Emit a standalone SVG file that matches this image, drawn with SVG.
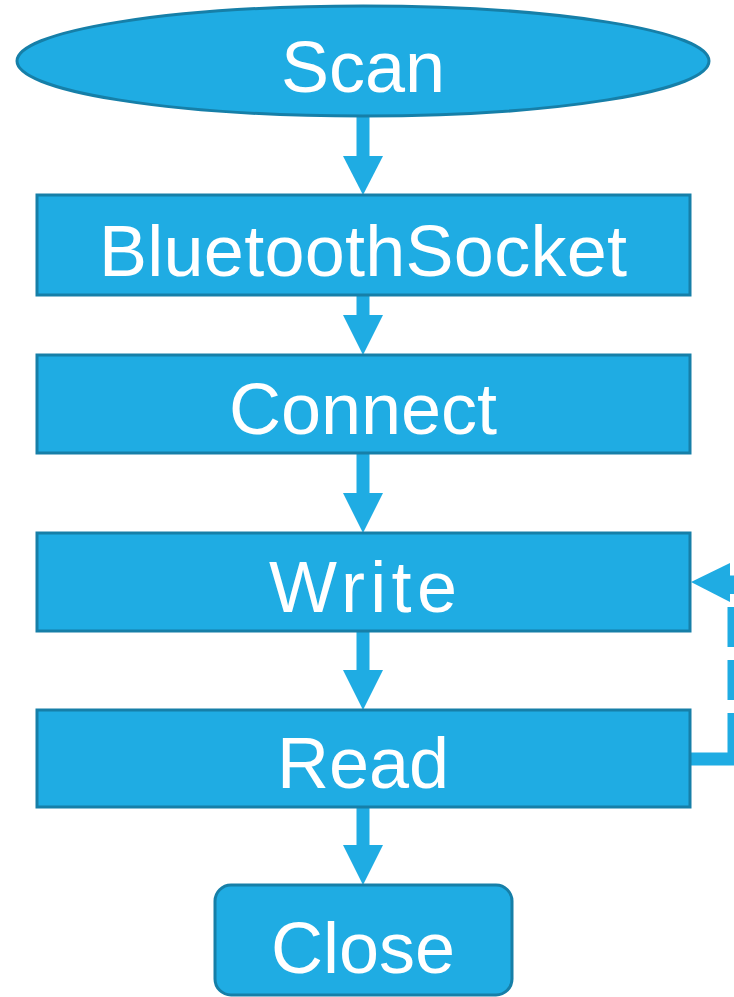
<svg xmlns="http://www.w3.org/2000/svg" width="734" height="997" viewBox="0 0 734 997">
<style>
.n{fill:#1FACE3;stroke:#167FA8;stroke-width:3}
.t{fill:#fff;font-family:"Liberation Sans",Arial,sans-serif;font-size:72px;text-anchor:middle}
.sh{fill:none;stroke:#1FACE3;stroke-width:13}
.hd{fill:#1FACE3}
</style>
<rect width="734" height="997" fill="#fff"/>
<g id="connectors">
<line class="sh" x1="363" y1="117" x2="363" y2="157"/><polygon class="hd" points="343,156 383,156 363,195"/>
<line class="sh" x1="363" y1="295" x2="363" y2="316"/><polygon class="hd" points="343,315 383,315 363,355"/>
<line class="sh" x1="363" y1="453" x2="363" y2="494"/><polygon class="hd" points="343,493 383,493 363,533"/>
<line class="sh" x1="363" y1="631" x2="363" y2="671"/><polygon class="hd" points="343,670 383,670 363,710"/>
<line class="sh" x1="363" y1="807" x2="363" y2="846"/><polygon class="hd" points="343,845 383,845 363,885"/>
<line class="sh" x1="690" y1="759" x2="734" y2="759"/>
<line class="sh" x1="734" y1="753" x2="734" y2="582" stroke-dasharray="40,13"/>
<line class="sh" x1="726" y1="582" x2="734" y2="582"/>
<polygon class="hd" points="691,582 730,563 730,602"/>
</g>
<g id="scan"><ellipse class="n" cx="363" cy="61" rx="346" ry="55"/><text class="t" x="363" y="92">Scan</text></g>
<g id="socket"><rect class="n" x="37" y="195" width="653" height="100"/><text class="t" x="363" y="276" textLength="528">BluetoothSocket</text></g>
<g id="connect"><rect class="n" x="37" y="355" width="653" height="98"/><text class="t" x="363" y="434">Connect</text></g>
<g id="write"><rect class="n" x="37" y="533" width="653" height="98"/><text class="t" x="363" y="612" textLength="188">Write</text></g>
<g id="read"><rect class="n" x="37" y="710" width="653" height="97"/><text class="t" x="363" y="788">Read</text></g>
<g id="close"><rect class="n" x="215" y="885" width="297" height="110" rx="16"/><text class="t" x="363" y="973">Close</text></g>
</svg>
